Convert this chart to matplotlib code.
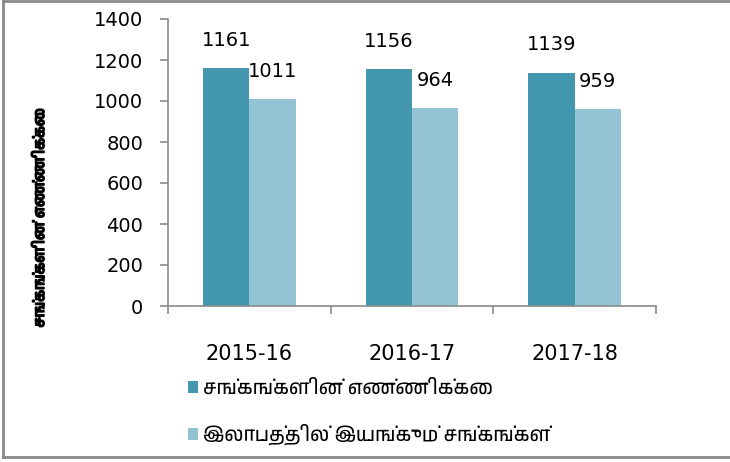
import matplotlib
matplotlib.use("Agg")
import matplotlib.pyplot as plt
import matplotlib.patheffects as pe
from matplotlib import font_manager
import numpy as np

categories = ["2015-16", "2016-17", "2017-18"]
total_societies = [1161, 1156, 1139]
profit_societies = [1011, 964, 959]
series_names = ["சங்கங்களின் எண்ணிக்கை", "இலாபத்தில் இயங்கும் சங்கங்கள்"]
y_label = "சங்கங்களின் எண்ணிக்கை"
y_ticks = [0, 200, 400, 600, 800, 1000, 1200, 1400]

# look for any font that can draw Tamil
tamil = None
for f in font_manager.fontManager.ttflist:
    n = f.name.lower()
    if "tamil" in n or "lohit" in n or "latha" in n or "vijaya" in n:
        tamil = f.name
        break
fams = ["DejaVu Sans"]
if tamil:
    fams = ["DejaVu Sans", tamil]
plt.rcParams["font.family"] = fams
tfams = [tamil, "DejaVu Sans"] if tamil else ["DejaVu Sans"]

dark = "#4398b0"
light = "#94c3d5"
grey = "#8a8a8a"

fig = plt.figure(figsize=(7.3, 4.62), dpi=100)
ax = fig.add_axes([168 / 730, 1 - 306 / 462, (656 - 168) / 730, (306 - 19) / 462])

x = np.arange(len(categories))
w = 0.285
b1 = ax.bar(x - w / 2, total_societies, w, color=dark, label=series_names[0])
b2 = ax.bar(x + w / 2, profit_societies, w, color=light, label=series_names[1])

for bars, vals in [(b1, total_societies), (b2, profit_societies)]:
    for r, v in zip(bars, vals):
        ax.annotate(str(v), (r.get_x() + r.get_width() / 2, v), xytext=(0, 13),
                    textcoords="offset points", ha="center", va="bottom", fontsize=14)

ax.set_xlim(-0.5, 2.5)
ax.set_ylim(0, 1400)
ax.set_yticks(y_ticks)
ax.set_xticks(x)
ax.set_xticklabels(categories, fontsize=15)
ax.tick_params(axis="y", labelsize=14, length=6, width=1.2, color=grey, pad=12)
ax.tick_params(axis="x", length=0, pad=27)
ax.set_xticks([-0.5, 0.5, 1.5, 2.5], minor=True)
ax.tick_params(axis="x", which="minor", length=6, width=1.2, color=grey, direction="out")
for s in ["top", "right"]:
    ax.spines[s].set_visible(False)
for s in ["left", "bottom"]:
    ax.spines[s].set_color(grey)
    ax.spines[s].set_linewidth(1.2)

# the Tamil font has no bold face, so thicken it with a stroke
fig.text(40 / 730, 1 - 218 / 462, y_label, rotation=90, ha="center", va="center",
         fontsize=10.6, fontweight="bold", family=tfams,
         path_effects=[pe.withStroke(linewidth=1.1, foreground="black")])

leg = fig.legend(handles=[b1, b2], loc="upper left", bbox_to_anchor=(178 / 730, 1 - 370 / 462),
                 frameon=False, prop={"family": tfams, "size": 14}, handlelength=0.55,
                 handleheight=0.55, handletextpad=0.25, labelspacing=1.38, borderpad=0)

# outer frame (right side runs off the picture)
fx = 3 / 730
fy_top = 1 - 1 / 462
fy_bot = 1 - 457 / 462
for xs, ys in [([fx, fx], [fy_bot, fy_top]), ([fx, 1], [fy_top, fy_top]), ([fx, 1], [fy_bot, fy_bot])]:
    fig.add_artist(plt.Line2D(xs, ys, transform=fig.transFigure, color=grey, linewidth=2,
                              solid_capstyle="projecting"))

fig.savefig("out.png", dpi=100)
